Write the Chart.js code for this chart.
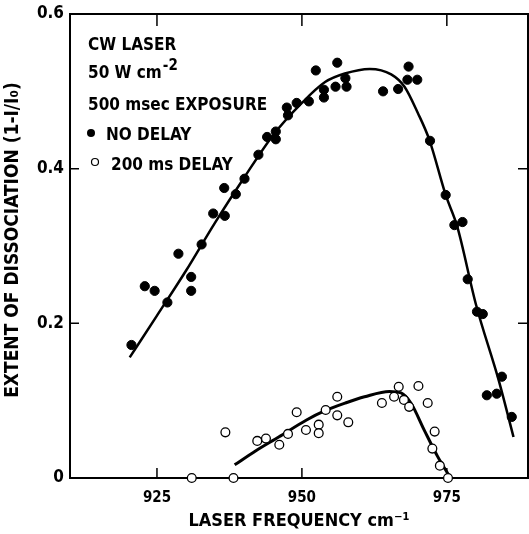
<!DOCTYPE html>
<html>
<head>
<meta charset="utf-8">
<script src="https://cdn.jsdelivr.net/npm/chart.js@4.4.1/dist/chart.umd.min.js"></script>
<style>
html, body { margin: 0; padding: 0; background: #fff; }
</style>
</head>
<body>
<canvas id="chart" width="529" height="534"></canvas>
<script>
// tick values
const xTicks = [925, 950, 975];
const yTicks = [0, 0.2, 0.4, 0.6];

// no delay (filled dots)
const noDelayX = [920.6, 922.9, 924.6, 926.8, 928.7, 930.9, 930.9, 932.7, 934.7, 936.7, 936.6, 938.6, 940.1, 942.5,
  944.0, 945.5, 945.5, 947.4, 947.6, 949.1, 951.2, 952.4, 953.8, 953.8, 956.1, 955.8, 957.7, 957.5,
  964.0, 966.6, 968.4, 968.2, 969.9, 972.1, 974.8, 976.3, 977.7, 978.6, 980.2, 981.2, 981.9, 983.6, 984.5, 986.2];
const noDelayY = [0.172, 0.248, 0.242, 0.227, 0.290, 0.260, 0.242, 0.302, 0.342, 0.339, 0.375, 0.367, 0.387, 0.418,
  0.441, 0.448, 0.438, 0.479, 0.469, 0.485, 0.487, 0.527, 0.502, 0.492, 0.537, 0.506, 0.506, 0.517,
  0.500, 0.503, 0.532, 0.515, 0.515, 0.436, 0.366, 0.327, 0.331, 0.257, 0.215, 0.212, 0.107, 0.109, 0.131, 0.079];

// 200 ms delay (open circles)
const delayX = [931.0, 938.2, 936.8, 942.3, 943.8, 946.1, 947.6, 949.1, 950.7, 952.9, 952.9, 954.1, 956.1,
  956.1, 958.0, 963.8, 965.9, 966.7, 967.6, 968.5, 970.1, 971.7, 972.9, 972.5, 973.8, 975.2];
const delayY = [0, 0, 0.059, 0.048, 0.051, 0.043, 0.057, 0.085, 0.062, 0.069, 0.058, 0.088, 0.105,
  0.081, 0.072, 0.097, 0.105, 0.118, 0.101, 0.092, 0.119, 0.097, 0.060, 0.038, 0.016, 0.0];

// fitted curves
const noDelayFitX = [920.3, 925, 930, 935, 940, 945, 950, 954, 957.4, 961.7, 965.4, 967.7, 970, 972, 974.8, 976.8, 980, 984, 986.5];
const noDelayFitY = [0.156, 0.210, 0.268, 0.330, 0.388, 0.443, 0.485, 0.512, 0.523, 0.529, 0.522, 0.506, 0.472, 0.437, 0.366, 0.325, 0.225, 0.125, 0.053];
const delayFitX = [938.4, 942, 946, 950.8, 954, 957.5, 960.8, 965.1, 967.1, 968.8, 971.1, 973.4, 975.3];
const delayFitY = [0.017, 0.035, 0.053, 0.075, 0.087, 0.097, 0.105, 0.112, 0.110, 0.097, 0.062, 0.028, 0.004];

const FONT = '"DejaVu Sans Condensed", "DejaVu Sans", sans-serif';
Chart.defaults.font.family = FONT;
Chart.defaults.font.weight = 'bold';
Chart.defaults.color = '#000';

const pts = (xs, ys) => xs.map((v, i) => ({ x: v, y: ys[i] }));

// frame, inward ticks and the text block in the corner
const extras = {
  id: 'extras',
  beforeDatasetsDraw(chart) {
    const { ctx, chartArea: a, scales: { x, y } } = chart;
    ctx.save();
    ctx.strokeStyle = '#000';
    ctx.lineWidth = 2;
    ctx.strokeRect(a.left, a.top, a.right - a.left, a.bottom - a.top);
    ctx.lineWidth = 1.5;
    ctx.beginPath();
    xTicks.forEach(v => {
      const p = x.getPixelForValue(v);
      ctx.moveTo(p, a.bottom); ctx.lineTo(p, a.bottom - 10);
      ctx.moveTo(p, a.top); ctx.lineTo(p, a.top + 12);
    });
    yTicks.forEach(v => {
      const p = y.getPixelForValue(v);
      ctx.moveTo(a.left, p); ctx.lineTo(a.left + 9, p);
      ctx.moveTo(a.right, p); ctx.lineTo(a.right - 10, p);
    });
    ctx.stroke();
    ctx.restore();
  },
  afterDraw(chart) {
    const ctx = chart.ctx;
    ctx.save();
    ctx.fillStyle = '#000';
    ctx.strokeStyle = '#000';
    ctx.font = 'bold 17px ' + FONT;
    ctx.fillText('CW LASER', 88, 50);
    ctx.fillText('50 W cm', 88, 78);
    const w = ctx.measureText('50 W cm').width;
    ctx.fillText('500 msec EXPOSURE', 88, 110);
    ctx.fillText('NO DELAY', 106, 140);
    ctx.fillText('200 ms DELAY', 111, 170);
    ctx.font = 'bold 15px ' + FONT;
    ctx.fillText('-2', 88 + w + 1, 70);
    ctx.beginPath();
    ctx.arc(91, 133, 4, 0, Math.PI * 2);
    ctx.fill();
    ctx.beginPath();
    ctx.lineWidth = 1.2;
    ctx.arc(95, 162, 3.5, 0, Math.PI * 2);
    ctx.stroke();
    ctx.restore();
  }
};

new Chart(document.getElementById('chart'), {
  type: 'scatter',
  data: {
    datasets: [
      {
        label: 'NO DELAY',
        data: pts(noDelayX, noDelayY),
        backgroundColor: '#000',
        borderColor: '#000',
        pointRadius: 4.6,
        order: 0
      },
      {
        label: '200 ms DELAY',
        data: pts(delayX, delayY),
        backgroundColor: '#fff',
        borderColor: '#000',
        borderWidth: 1.3,
        pointRadius: 4.4,
        order: 0
      },
      {
        type: 'line',
        data: pts(noDelayFitX, noDelayFitY),
        borderColor: '#000',
        borderWidth: 2.5,
        pointRadius: 0,
        cubicInterpolationMode: 'monotone',
        fill: false,
        order: 1
      },
      {
        type: 'line',
        data: pts(delayFitX, delayFitY),
        borderColor: '#000',
        borderWidth: 3,
        pointRadius: 0,
        cubicInterpolationMode: 'monotone',
        fill: false,
        order: 1
      }
    ]
  },
  options: {
    responsive: false,
    animation: false,
    clip: false,
    layout: { autoPadding: false, padding: { top: 14, right: 1, left: 0, bottom: 0 } },
    plugins: { legend: { display: false }, tooltip: { enabled: false } },
    scales: {
      x: {
        type: 'linear',
        min: 910,
        max: 989,
        afterBuildTicks: s => { s.ticks = xTicks.map(v => ({ value: v })); },
        afterFit: s => { s.height = 56; s.paddingLeft = 0; s.paddingRight = 0; },
        grid: { display: false, drawTicks: false },
        border: { display: false },
        ticks: { font: { size: 15 }, padding: 11, maxRotation: 0, callback: v => String(v) },
        title: { display: true, text: 'LASER FREQUENCY cm⁻¹', font: { size: 18 }, padding: { top: 0, bottom: 2 } }
      },
      y: {
        type: 'linear',
        min: 0,
        max: 0.6,
        afterBuildTicks: s => { s.ticks = yTicks.map(v => ({ value: v })); },
        afterFit: s => { s.width = 70; s.paddingTop = 0; s.paddingBottom = 0; },
        grid: { display: false, drawTicks: false },
        border: { display: false },
        ticks: { font: { size: 17 }, padding: 6, callback: v => v === 0 ? '0' : v.toFixed(1) },
        title: { display: true, text: '  EXTENT OF DISSOCIATION (1-I/I₀)', font: { size: 19 }, padding: { top: 2, bottom: 0 } }
      }
    }
  },
  plugins: [extras]
});
</script>
</body>
</html>
